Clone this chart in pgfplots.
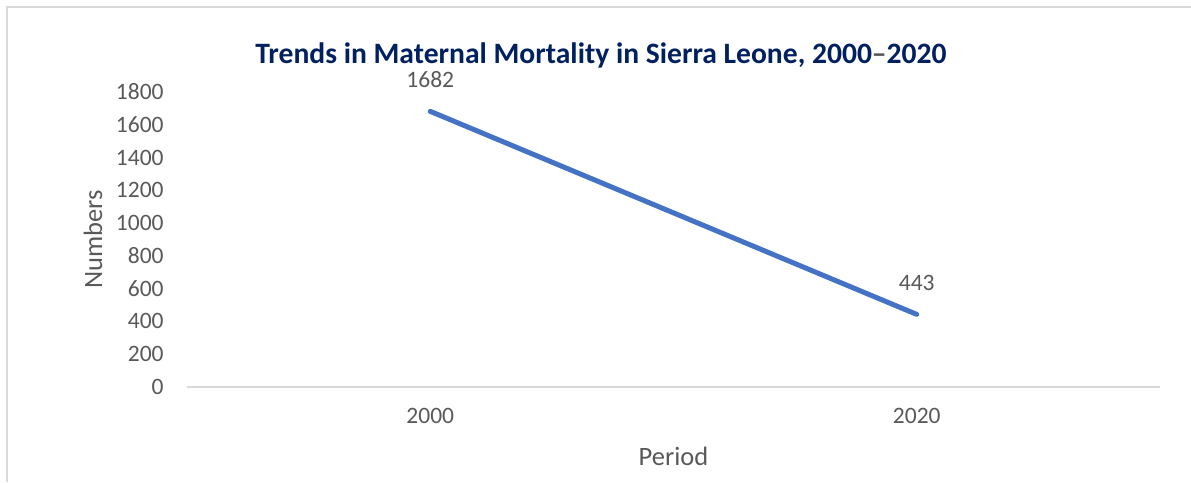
\documentclass[border=0pt]{standalone}
\usepackage{fontspec}
\setmainfont{Carlito}
\usepackage{pgfplots}
\pgfplotsset{compat=1.18}
\definecolor{titlenavy}{HTML}{002060}
\definecolor{tickgray}{HTML}{595959}
\definecolor{axisgray}{HTML}{D9D9D9}
\definecolor{lineblue}{HTML}{4472C4}
\begin{document}
\begin{tikzpicture}[x=1bp,y=1bp]
  \useasboundingbox (0,0) rectangle (595.5,241);
  % chart frame (only top and left visible)
  \draw[axisgray, line width=1bp] (3.5,0) -- (3.5,237.5) -- (595.5,237.5);
  \node[anchor=base, font=\fontsize{14.85}{17}\selectfont\bfseries, text=titlenavy]
    at (300.5,209.5) {Trends in Maternal Mortality in Sierra Leone, 2000{\color{tickgray}\textendash}2020};
  \begin{axis}[
    at={(93.5bp,47.5bp)}, anchor=south west,
    scale only axis,
    width=486.5bp, height=147.5bp,
    xmin=-0.5, xmax=1.5,
    ymin=0, ymax=1800,
    xtick={0,1}, xticklabels={2000,2020},
    ytick={0,200,...,1800},
    axis x line*=bottom, axis y line*=left,
    x axis line style={draw=axisgray, line width=1bp, -},
    y axis line style={draw=none},
    major tick length=0pt,
    tick style={draw=none},
    /pgf/number format/1000 sep={},
    /pgf/number format/assume math mode=true,
    ticklabel style={font=\fontsize{11.8}{14}\selectfont, text=tickgray, inner sep=0pt},
    yticklabel style={anchor=east, xshift=-11.5bp},
    xticklabel style={anchor=north, yshift=-10.5bp},
    label style={font=\fontsize{13.3}{16}\selectfont, text=tickgray},
    xlabel={Period},
    ylabel={Numbers},
    xlabel style={at={(rel axis cs:0.5,-0.234)}, anchor=center},
    ylabel style={at={(rel axis cs:-0.0966,0.5)}, anchor=center},
    clip=false,
  ]
    \addplot[color=lineblue, line width=2.5bp, line cap=round, mark=none,
      nodes near coords,
      every node near coord/.append style={anchor=center, yshift=15.75bp,
        font=\fontsize{11.8}{14}\selectfont, text=tickgray}]
      coordinates {(0,1682) (1,443)};
  \end{axis}
\end{tikzpicture}
\end{document}
